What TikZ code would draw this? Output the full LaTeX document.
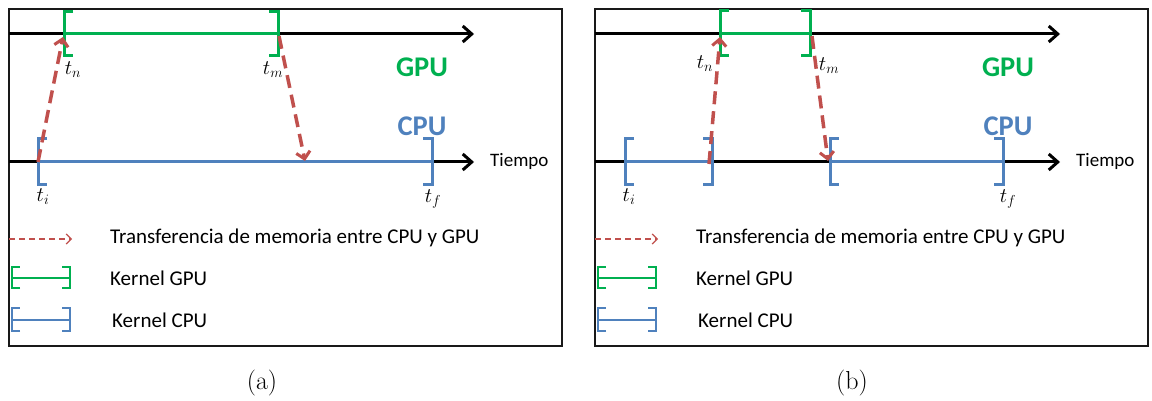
\documentclass[tikz,border=0pt]{standalone}
\usepackage{fontspec}
\setsansfont{Carlito}
\usetikzlibrary{arrows.meta}
\definecolor{gpug}{HTML}{00B050}
\definecolor{cpub}{HTML}{4F81BD}
\definecolor{xfer}{HTML}{C0504D}
\tikzset{
  frame/.style={draw=black!90, line width=2pt},
  axis/.style={line width=3pt, -{Straight Barb[length=9pt,width=16pt,line width=3pt]}},
  gk/.style={draw=gpug, line width=3pt},
  ck/.style={draw=cpub, line width=3pt},
  gkl/.style={draw=gpug, line width=1.4pt},
  ckl/.style={draw=cpub, line width=1.4pt},
  xf/.style={draw=xfer, line width=3.5pt, dash pattern=on 13pt off 7pt, -{Straight Barb[length=7pt,width=14pt,line width=3pt]}},
  xfl/.style={draw=xfer, line width=1.4pt, dash pattern=on 6pt off 4pt, -{Straight Barb[length=5pt,width=10pt,line width=1.2pt]}},
  lbl/.style={font=\sffamily\fontsize{21}{24}\selectfont, anchor=west, inner sep=0pt},
  tiempo/.style={font=\sffamily\fontsize{19}{22}\selectfont, anchor=west, inner sep=0pt},
  gpul/.style={font=\sffamily\bfseries\fontsize{28.5}{32}\selectfont, text=gpug, inner sep=0pt},
  cpul/.style={font=\sffamily\bfseries\fontsize{28.5}{32}\selectfont, text=cpub, inner sep=0pt},
  tl/.style={font=\fontsize{22}{25}\selectfont, inner sep=0pt},
  captxt/.style={font=\fontsize{26}{29}\selectfont, inner sep=0pt},
}
\begin{document}
\begin{tikzpicture}[x=1pt,y=-1pt]
\useasboundingbox (0,0) rectangle (1152,401);
% ===== panel (a) =====
\draw[frame] (9,9) rectangle (562,346);
\coordinate (aG0) at (9,34); \coordinate (aG1) at (474,34);
\coordinate (aC0) at (9,162); \coordinate (aC1) at (474,162);
\draw[axis] (aG0) -- (aG1);
\draw[axis] (aC0) -- (aC1);
% GPU kernel
\coordinate (agL) at (64,34); \coordinate (agR) at (278,34);
\draw[gk] (agL) -- (agR);
\draw[gk] ([xshift=9pt,yshift=22pt]agL) -- ([yshift=22pt]agL) -- ([yshift=-22pt]agL) -- ([xshift=9pt,yshift=-22pt]agL);
\draw[gk] ([xshift=-9pt,yshift=22pt]agR) -- ([yshift=22pt]agR) -- ([yshift=-22pt]agR) -- ([xshift=-9pt,yshift=-22pt]agR);
% CPU kernel
\coordinate (acL) at (38,162); \coordinate (acR) at (432,162);
\draw[ck] (acL) -- (acR);
\draw[ck] ([xshift=9pt,yshift=23pt]acL) -- ([yshift=23pt]acL) -- ([yshift=-23pt]acL) -- ([xshift=9pt,yshift=-23pt]acL);
\draw[ck] ([xshift=-9pt,yshift=23pt]acR) -- ([yshift=23pt]acR) -- ([yshift=-23pt]acR) -- ([xshift=-9pt,yshift=-23pt]acR);
% transfers
\coordinate (ax1s) at (38,162); \coordinate (ax1e) at (63,37);
\coordinate (ax2s) at (279,36); \coordinate (ax2e) at (305,161);
\draw[xf] (ax1s) -- (ax1e);
\draw[xf] (ax2s) -- (ax2e);
% labels
\node[tl] (atn) at (73,70) {$t_n$};
\node[tl] (atm) at (273,70) {$t_m$};
\node[tl] (ati) at (43,197) {$t_i$};
\node[tl] (atf) at (433,199) {$t_f$};
\node[gpul] (aGPU) at (422,67) {GPU};
\node[cpul] (aCPU) at (422,126) {CPU};
\node[tiempo] (aT) at (490,161) {Tiempo};
% legend
\coordinate (alx0) at (9,239); \coordinate (alx1) at (72,239);
\draw[xfl] (alx0) -- (alx1);
\node[lbl] (alt1) at (110,238) {Transferencia de memoria entre CPU y GPU};
\coordinate (alg0) at (12,278); \coordinate (alg1) at (70,278);
\draw[gkl] (alg0) -- (alg1);
\draw[gkl] ([xshift=8pt,yshift=-10pt]alg0) -- ([yshift=-10pt]alg0) -- ([yshift=11pt]alg0) -- ([xshift=8pt,yshift=11pt]alg0);
\draw[gkl] ([xshift=-8pt,yshift=-10pt]alg1) -- ([yshift=-10pt]alg1) -- ([yshift=11pt]alg1) -- ([xshift=-8pt,yshift=11pt]alg1);
\node[lbl] (alt2) at (110,278) {Kernel GPU};
\coordinate (alc0) at (12,320); \coordinate (alc1) at (70,320);
\draw[ckl] (alc0) -- (alc1);
\draw[ckl] ([xshift=8pt,yshift=-11pt]alc0) -- ([yshift=-11pt]alc0) -- ([yshift=12pt]alc0) -- ([xshift=8pt,yshift=12pt]alc0);
\draw[ckl] ([xshift=-8pt,yshift=-11pt]alc1) -- ([yshift=-11pt]alc1) -- ([yshift=12pt]alc1) -- ([xshift=-8pt,yshift=12pt]alc1);
\node[lbl] (alt3) at (112,320) {Kernel CPU};
\node[captxt] (acap) at (262,383) {(a)};
% ===== panel (b) =====
\draw[frame] (595,9) rectangle (1148,346);
\coordinate (bG0) at (595,34); \coordinate (bG1) at (1060,34);
\coordinate (bC0) at (595,162); \coordinate (bC1) at (1060,162);
\draw[axis] (bG0) -- (bG1);
\draw[axis] (bC0) -- (bC1);
% GPU kernel
\coordinate (bgL) at (720,34); \coordinate (bgR) at (810,34);
\draw[gk] (bgL) -- (bgR);
\draw[gk] ([xshift=9pt,yshift=23pt]bgL) -- ([yshift=23pt]bgL) -- ([yshift=-22pt]bgL) -- ([xshift=9pt,yshift=-22pt]bgL);
\draw[gk] ([xshift=-9pt,yshift=23pt]bgR) -- ([yshift=23pt]bgR) -- ([yshift=-22pt]bgR) -- ([xshift=-9pt,yshift=-22pt]bgR);
% CPU kernels
\coordinate (bc1L) at (625,162); \coordinate (bc1R) at (712,162);
\draw[ck] (bc1L) -- (bc1R);
\draw[ck] ([xshift=9pt,yshift=23pt]bc1L) -- ([yshift=23pt]bc1L) -- ([yshift=-23pt]bc1L) -- ([xshift=9pt,yshift=-23pt]bc1L);
\draw[ck] ([xshift=-9pt,yshift=23pt]bc1R) -- ([yshift=23pt]bc1R) -- ([yshift=-23pt]bc1R) -- ([xshift=-9pt,yshift=-23pt]bc1R);
\coordinate (bc2L) at (830,162); \coordinate (bc2R) at (1003,162);
\draw[ck] (bc2L) -- (bc2R);
\draw[ck] ([xshift=9pt,yshift=23pt]bc2L) -- ([yshift=23pt]bc2L) -- ([yshift=-23pt]bc2L) -- ([xshift=9pt,yshift=-23pt]bc2L);
\draw[ck] ([xshift=-9pt,yshift=23pt]bc2R) -- ([yshift=23pt]bc2R) -- ([yshift=-23pt]bc2R) -- ([xshift=-9pt,yshift=-23pt]bc2R);
% transfers
\coordinate (bx1s) at (709,164); \coordinate (bx1e) at (720,37);
\coordinate (bx2s) at (812,36); \coordinate (bx2e) at (828,161);
\draw[xf] (bx1s) -- (bx1e);
\draw[xf] (bx2s) -- (bx2e);
% labels
\node[tl] (btn) at (705,64) {$t_n$};
\node[tl] (btm) at (829,66) {$t_m$};
\node[tl] (bti) at (629,197) {$t_i$};
\node[tl] (btf) at (1008,199) {$t_f$};
\node[gpul] (bGPU) at (1008,67) {GPU};
\node[cpul] (bCPU) at (1008,126) {CPU};
\node[tiempo] (bT) at (1076,161) {Tiempo};
% legend
\coordinate (blx0) at (595,239); \coordinate (blx1) at (658,239);
\draw[xfl] (blx0) -- (blx1);
\node[lbl] (blt1) at (696,238) {Transferencia de memoria entre CPU y GPU};
\coordinate (blg0) at (598,278); \coordinate (blg1) at (656,278);
\draw[gkl] (blg0) -- (blg1);
\draw[gkl] ([xshift=8pt,yshift=-10pt]blg0) -- ([yshift=-10pt]blg0) -- ([yshift=11pt]blg0) -- ([xshift=8pt,yshift=11pt]blg0);
\draw[gkl] ([xshift=-8pt,yshift=-10pt]blg1) -- ([yshift=-10pt]blg1) -- ([yshift=11pt]blg1) -- ([xshift=-8pt,yshift=11pt]blg1);
\node[lbl] (blt2) at (696,278) {Kernel GPU};
\coordinate (blc0) at (598,320); \coordinate (blc1) at (656,320);
\draw[ckl] (blc0) -- (blc1);
\draw[ckl] ([xshift=8pt,yshift=-11pt]blc0) -- ([yshift=-11pt]blc0) -- ([yshift=12pt]blc0) -- ([xshift=8pt,yshift=12pt]blc0);
\draw[ckl] ([xshift=-8pt,yshift=-11pt]blc1) -- ([yshift=-11pt]blc1) -- ([yshift=12pt]blc1) -- ([xshift=-8pt,yshift=12pt]blc1);
\node[lbl] (blt3) at (698,320) {Kernel CPU};
\node[captxt] (bcap) at (852,383) {(b)};
\end{tikzpicture}
\end{document}
